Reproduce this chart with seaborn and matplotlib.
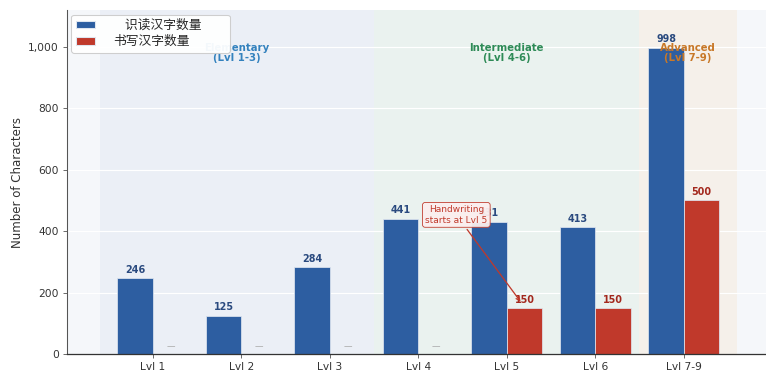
import numpy as np
import pandas as pd
import matplotlib
matplotlib.use("Agg")
import matplotlib.pyplot as plt
import seaborn as sns
from matplotlib.patches import Patch

# Character counts per HSK-style level
levels = ["Lvl 1", "Lvl 2", "Lvl 3", "Lvl 4", "Lvl 5", "Lvl 6", "Lvl 7-9"]
reading_counts = [246, 125, 284, 441, 431, 413, 998]
writing_counts = [np.nan, np.nan, np.nan, np.nan, 150, 150, 500]
series_names = ["识读汉字数量", "书写汉字数量"]
legend_labels = ["   识读汉字数量      ", "书写汉字数量"]

# Level bands: (label, start, end, text colour, band colour)
bands = [
    ("Elementary\n(Lvl 1-3)", -0.6, 2.5, "#3482be", "#eaeff6"),
    ("Intermediate\n(Lvl 4-6)", 2.5, 5.5, "#2e8b57", "#e9f2ee"),
    ("Advanced\n(Lvl 7-9)", 5.5, 6.6, "#c87828", "#f5f0e9"),
]

BLUE = "#2d5ea1"
RED = "#c0392b"

sns.set_theme(style="whitegrid")
plt.rcParams["font.family"] = ["DejaVu Sans", "Noto Sans CJK SC"]
plt.rcParams["axes.unicode_minus"] = False

df = pd.DataFrame({
    "level": levels * 2,
    "count": reading_counts + writing_counts,
    "type": [series_names[0]] * len(levels) + [series_names[1]] * len(levels),
}).dropna()

fig = plt.figure(figsize=(10, 4.883), dpi=76.6)
ax = fig.add_axes([0.0875, 0.0535, 0.9125, 0.9195])
ax.set_facecolor("#f5f7fa")

for label, x0, x1, tcol, bcol in bands:
    ax.axvspan(x0, x1, color=bcol, alpha=0.9, zorder=0, lw=0)

sns.barplot(data=df, x="level", y="count", hue="type", order=levels,
            hue_order=series_names, palette=[BLUE, RED], saturation=1, width=0.8,
            edgecolor="#dfe6f0", linewidth=0.7, legend=False, ax=ax, zorder=2)

ax.bar_label(ax.containers[0], padding=3, fontsize=9, fontweight="bold", color="#2a4a7f")
ax.bar_label(ax.containers[1], padding=3, fontsize=9, fontweight="bold", color="#a3281d")

# Dash marks where no handwriting target exists
for i, w in enumerate(writing_counts):
    if np.isnan(w):
        ax.text(i + 0.2, 25, "—", ha="center", va="center", fontsize=8, color="#aaaaaa")

for label, x0, x1, tcol, bcol in bands:
    ax.text((x0 + x1) / 2, 980, label, ha="center", va="center", fontsize=9.5,
            fontweight="bold", color=tcol, zorder=4, linespacing=1.1)

ax.annotate("Handwriting\nstarts at Lvl 5", xy=(4.17, 165), xytext=(3.43, 453),
            ha="center", va="center", fontsize=8.5, color=RED,
            bbox=dict(boxstyle="round,pad=0.3", fc="#fbeeee", ec=RED, lw=0.8, alpha=0.95),
            arrowprops=dict(arrowstyle="->", color=RED, lw=1.2), zorder=5)

ax.set_xlim(-0.97, 6.93)
ax.set_ylim(0, 1120)
ax.set_xlabel("")
ax.set_ylabel("Number of Characters", fontsize=11, color="#333333")
ax.yaxis.set_major_formatter(matplotlib.ticker.StrMethodFormatter("{x:,.0f}"))
ax.set_yticks([0, 200, 400, 600, 800, 1000])

ax.grid(axis="y", color="white", lw=1.1)
ax.grid(axis="x", visible=False)
for side in ["top", "right"]:
    ax.spines[side].set_visible(False)
ax.spines["left"].set_color("#555555")
ax.spines["left"].set_linewidth(1.0)
ax.spines["bottom"].set_color("#333333")
ax.spines["bottom"].set_linewidth(1.2)
ax.tick_params(axis="both", which="major", length=4, width=0.8, color="#555555",
               labelsize=10, labelcolor="#333333", bottom=True, left=True)

handles = [Patch(facecolor=BLUE, edgecolor="#dfe6f0"), Patch(facecolor=RED, edgecolor="#dfe6f0")]
leg = ax.legend(handles, legend_labels, loc="upper left", fontsize=12, frameon=True,
                facecolor="white", edgecolor="#cccccc", framealpha=0.95,
                handlelength=1.5, handleheight=0.55, labelspacing=0.25,
                handletextpad=1.4, borderpad=0.35, borderaxespad=0.35)

fig.savefig("out.png", dpi=76.6)
